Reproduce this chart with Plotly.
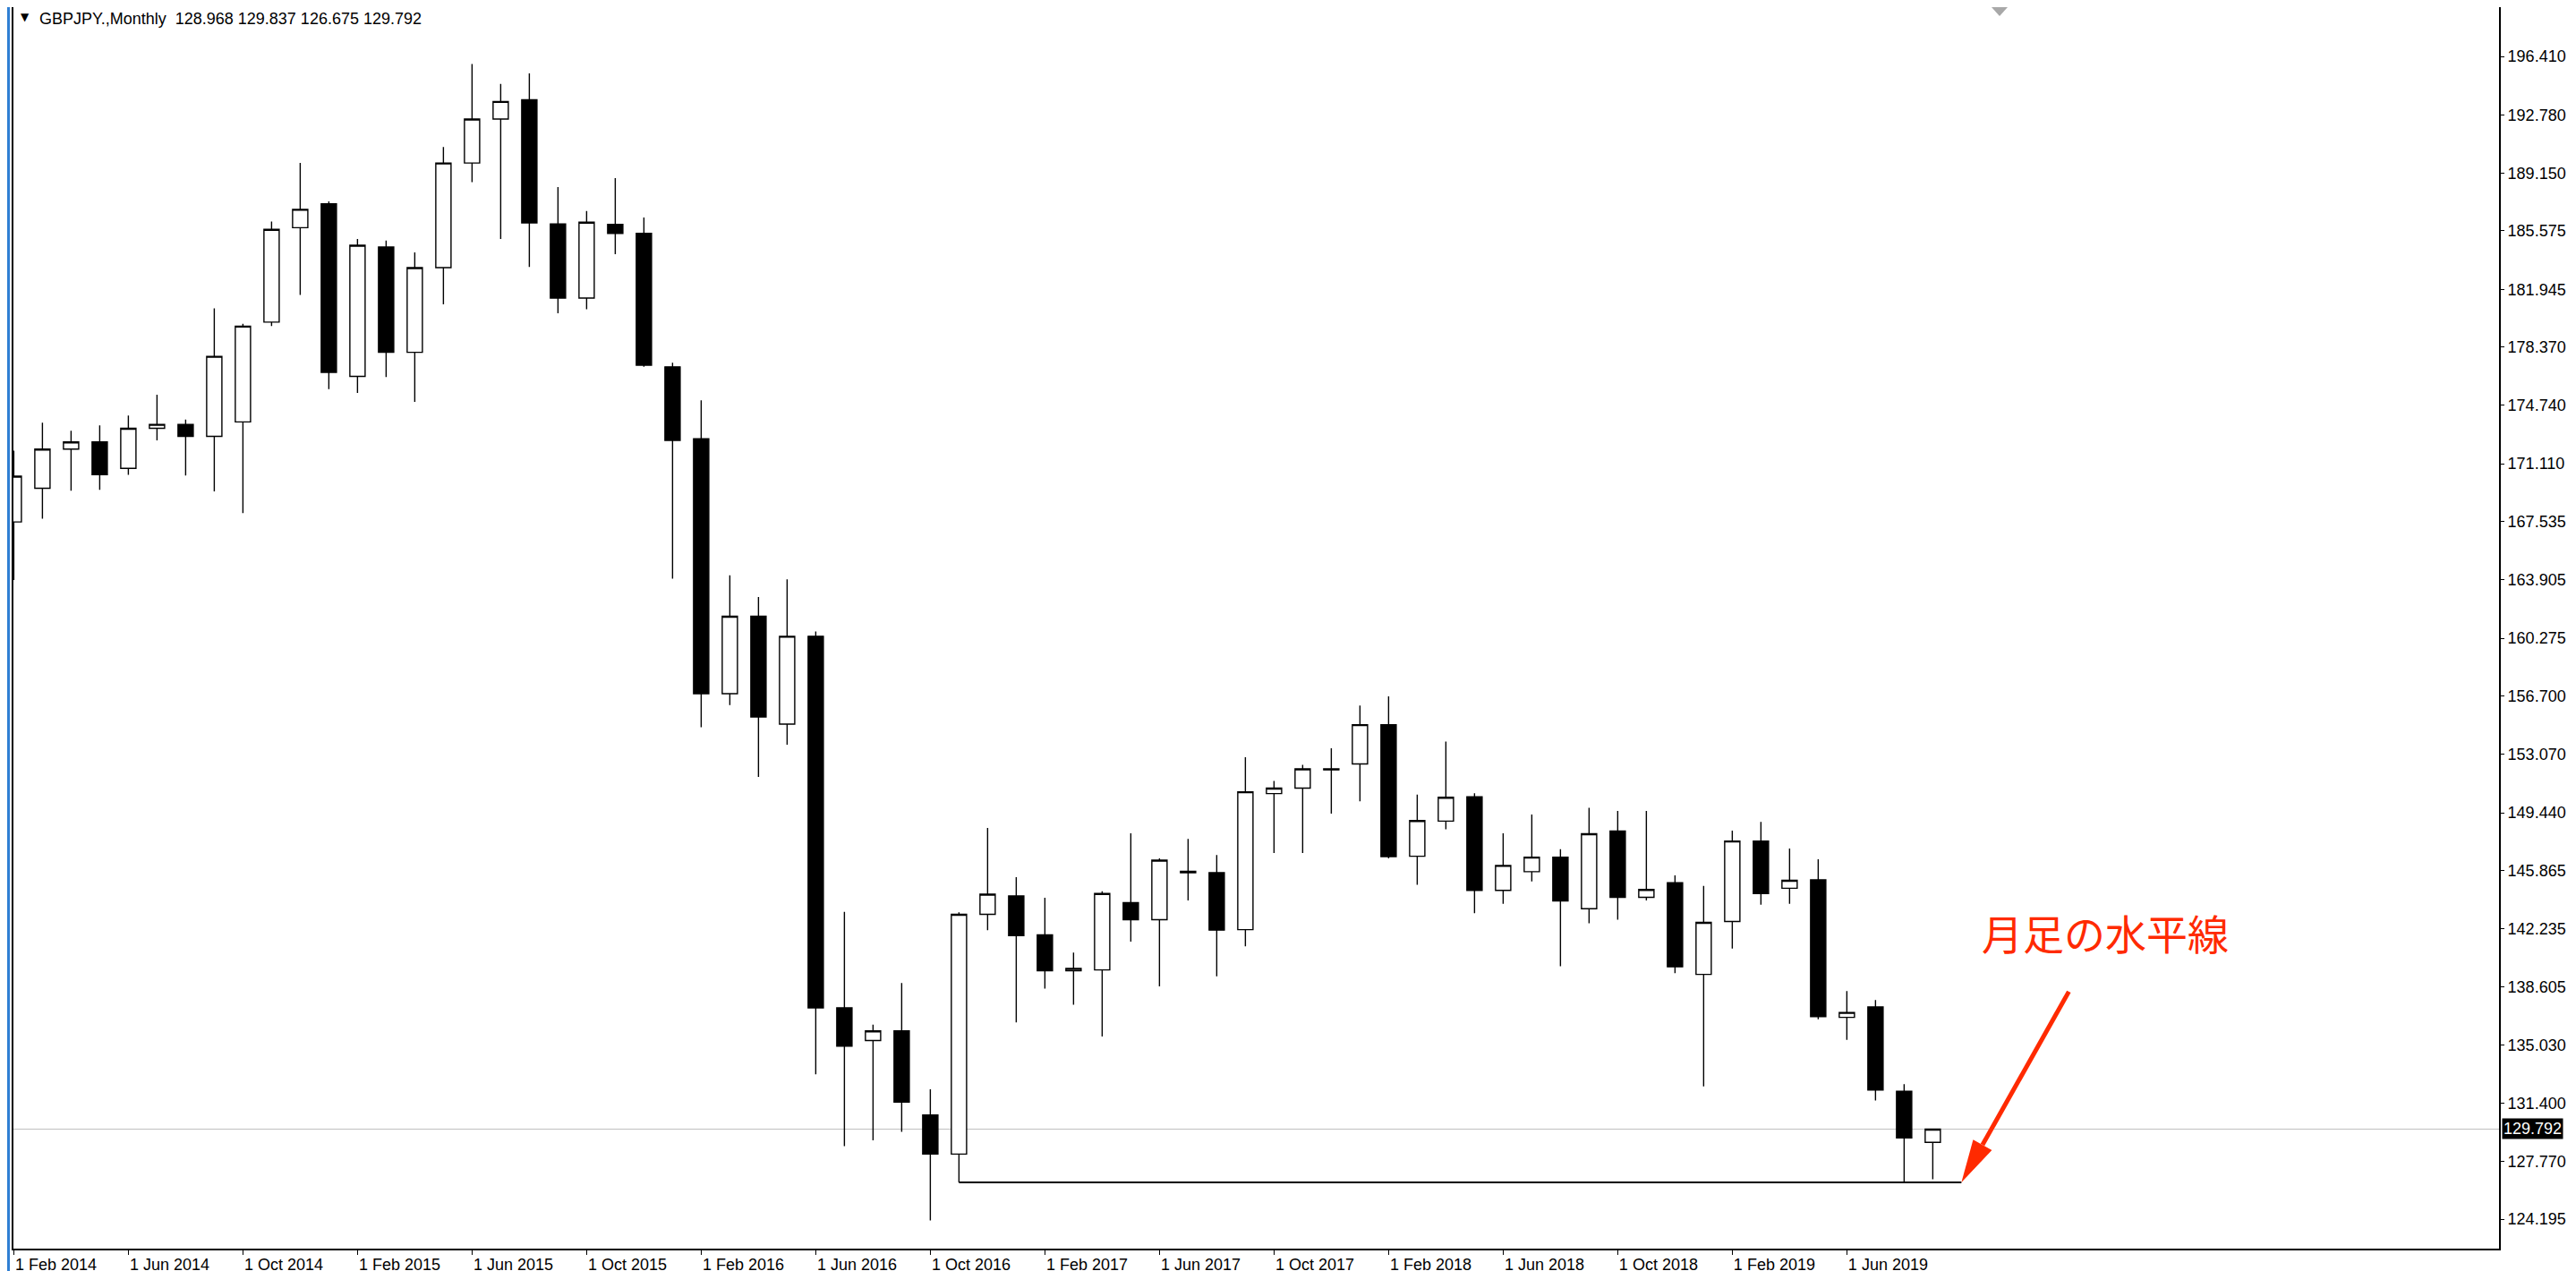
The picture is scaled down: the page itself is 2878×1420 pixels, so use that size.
import plotly.graph_objects as go

# ---------------- data ----------------
months = [
    "2014-02", "2014-03", "2014-04", "2014-05", "2014-06", "2014-07", "2014-08", "2014-09",
    "2014-10", "2014-11", "2014-12", "2015-01", "2015-02", "2015-03", "2015-04", "2015-05",
    "2015-06", "2015-07", "2015-08", "2015-09", "2015-10", "2015-11", "2015-12", "2016-01",
    "2016-02", "2016-03", "2016-04", "2016-05", "2016-06", "2016-07", "2016-08", "2016-09",
    "2016-10", "2016-11", "2016-12", "2017-01", "2017-02", "2017-03", "2017-04", "2017-05",
    "2017-06", "2017-07", "2017-08", "2017-09", "2017-10", "2017-11", "2017-12", "2018-01",
    "2018-02", "2018-03", "2018-04", "2018-05", "2018-06", "2018-07", "2018-08", "2018-09",
    "2018-10", "2018-11", "2018-12", "2019-01", "2019-02", "2019-03", "2019-04", "2019-05",
    "2019-06", "2019-07", "2019-08", "2019-09",
]
opens = [
    167.50, 169.59, 172.02, 172.47, 170.83, 173.31, 173.56, 172.81,
    173.71, 179.91, 185.77, 187.26, 176.54, 184.57, 178.03, 183.29,
    189.79, 192.52, 193.71, 186.01, 181.40, 185.97, 185.42, 177.13,
    172.67, 156.83, 161.64, 154.94, 160.40, 137.32, 135.29, 135.89,
    130.67, 128.24, 143.13, 144.27, 141.86, 139.62, 139.68, 143.85,
    142.80, 145.80, 145.72, 142.18, 150.63, 150.97, 152.16, 152.47,
    154.91, 146.74, 148.92, 150.43, 144.62, 145.78, 146.68, 143.48,
    148.30, 144.19, 145.10, 139.40, 142.69, 147.68, 144.75, 145.27,
    136.73, 137.38, 132.14, 128.968,
]
highs = [
    171.92, 173.66, 173.16, 173.50, 174.10, 175.40, 173.85, 180.76,
    179.81, 186.16, 189.79, 187.40, 185.07, 184.97, 184.24, 190.78,
    195.94, 194.70, 195.35, 188.30, 186.81, 188.85, 186.41, 177.38,
    175.05, 164.18, 162.83, 163.93, 160.70, 143.28, 136.28, 138.87,
    132.26, 143.25, 148.49, 145.44, 144.16, 140.76, 144.56, 148.16,
    146.60, 147.82, 146.82, 152.89, 151.42, 152.41, 153.44, 156.10,
    156.67, 150.57, 153.86, 150.65, 148.16, 149.33, 147.17, 149.75,
    149.55, 149.55, 145.55, 144.90, 148.33, 148.87, 147.22, 146.55,
    138.37, 137.81, 132.59, 129.837,
]
lows = [
    163.89, 167.70, 169.44, 169.49, 170.43, 172.56, 170.38, 169.39,
    168.05, 179.66, 181.60, 175.74, 175.51, 176.49, 174.95, 181.01,
    188.60, 185.07, 183.34, 180.46, 180.71, 184.13, 177.13, 163.98,
    154.75, 156.13, 151.67, 153.66, 133.20, 128.74, 129.09, 129.63,
    124.12, 126.49, 142.14, 136.42, 138.52, 137.52, 135.54, 141.44,
    138.66, 143.99, 139.28, 141.15, 146.94, 146.94, 149.38, 150.15,
    146.60, 144.96, 148.41, 143.20, 143.79, 145.18, 139.91, 142.57,
    142.80, 143.99, 139.48, 132.45, 141.01, 143.73, 143.79, 136.62,
    135.34, 131.57, 126.49, 126.675,
]
closes = [
    170.34, 172.02, 172.47, 170.43, 173.31, 173.56, 172.81, 177.78,
    179.66, 185.67, 186.91, 176.79, 184.68, 178.03, 183.29, 189.79,
    192.52, 193.61, 186.07, 181.40, 186.11, 185.42, 177.23, 172.56,
    156.83, 161.64, 155.39, 160.40, 137.32, 134.94, 135.89, 131.47,
    128.24, 143.13, 144.38, 141.81, 139.62, 139.77, 144.42, 142.80,
    146.49, 145.72, 142.15, 150.74, 150.97, 152.16, 152.10, 154.91,
    146.71, 148.95, 150.40, 144.62, 146.17, 146.68, 143.96, 148.13,
    144.19, 144.67, 139.87, 142.63, 147.68, 144.42, 145.24, 136.78,
    137.04, 132.22, 129.24, 129.792,
]

tick_months = ["2014-02", "2014-06", "2014-10", "2015-02", "2015-06", "2015-10",
               "2016-02", "2016-06", "2016-10", "2017-02", "2017-06", "2017-10",
               "2018-02", "2018-06", "2018-10", "2019-02", "2019-06"]
tick_labels = ["1 Feb 2014", "1 Jun 2014", "1 Oct 2014", "1 Feb 2015", "1 Jun 2015",
               "1 Oct 2015", "1 Feb 2016", "1 Jun 2016", "1 Oct 2016", "1 Feb 2017",
               "1 Jun 2017", "1 Oct 2017", "1 Feb 2018", "1 Jun 2018", "1 Oct 2018",
               "1 Feb 2019", "1 Jun 2019"]

price_ticks = [196.410, 192.780, 189.150, 185.575, 181.945, 178.370, 174.740, 171.110,
               167.535, 163.905, 160.275, 156.700, 153.070, 149.440, 145.865, 142.235,
               138.605, 135.030, 131.400, 127.770, 124.195]

symbol = "GBPJPY.,Monthly"
note_text = "月足の水平線"
support_month = "2016-11"      # monthly low used for the horizontal line

# ---------------- layout geometry ----------------
W, H = 2878, 1420
ML, MR, MT, MB = 7, 94, 0, 33
PW, PH = W - ML - MR, H - MT - MB
x_range = [-0.0125, 86.77]
y_range = [122.37, 199.467]
px_x = PW / (x_range[1] - x_range[0])      # pixels per bar
px_y = PH / (y_range[1] - y_range[0])      # pixels per price unit

xs = list(range(len(months)))
tick_idx = [months.index(m) for m in tick_months]

fig = go.Figure()
fig.add_trace(go.Candlestick(
    x=xs, open=opens, high=highs, low=lows, close=closes,
    increasing=dict(line=dict(color="black", width=1.4), fillcolor="white"),
    decreasing=dict(line=dict(color="black", width=1.4), fillcolor="black"),
    whiskerwidth=0, hoverinfo="skip", showlegend=False,
))

last = len(months) - 1
sup_i = months.index(support_month)
level = lows[sup_i]
line_end = last + 1.0

shapes = []
# current price (bid) line
shapes.append(dict(type="line", xref="paper", yref="y", x0=0, x1=1,
                   y0=closes[last], y1=closes[last],
                   line=dict(color="#c0c0c0", width=1), layer="below"))
# horizontal support line from the monthly low
shapes.append(dict(type="line", xref="x", yref="y", x0=sup_i, x1=line_end,
                   y0=level, y1=level, line=dict(color="black", width=2)))

# red arrow pointing to the end of the line
tip_x, tip_y = line_end, level
tail_dx_px, tail_dy_px = 120.0, -213.0      # tail offset in pixels (right, up)
L = (tail_dx_px ** 2 + tail_dy_px ** 2) ** 0.5
ux, uy = -tail_dx_px / L, -tail_dy_px / L   # unit vector tail->tip (px, y down)
head_len, head_half = 48.0, 12.0
bx, by = -ux * head_len, -uy * head_len     # base centre relative to tip (px)
pxp, pyp = -uy, ux                          # perpendicular


def to_data(dx_px, dy_px):
    return tip_x + dx_px / px_x, tip_y - dy_px / px_y


tail = to_data(tail_dx_px, tail_dy_px)
base = to_data(bx, by)
c1 = to_data(bx + pxp * head_half, by + pyp * head_half)
c2 = to_data(bx - pxp * head_half, by - pyp * head_half)
red = "#ff2a00"
shapes.append(dict(type="line", xref="x", yref="y", x0=tail[0], y0=tail[1],
                   x1=base[0], y1=base[1], line=dict(color=red, width=5)))
shapes.append(dict(type="path", xref="x", yref="y",
                   path=f"M{tip_x},{tip_y} L{c1[0]},{c1[1]} L{c2[0]},{c2[1]} Z",
                   fillcolor=red, line=dict(width=0)))
# blue window edge on the left
shapes.append(dict(type="rect", xref="paper", yref="paper",
                   x0=-ML / PW, x1=-4 / PW, y0=-MB / PH, y1=1,
                   fillcolor="#2f7fd3", line=dict(width=0)))
# thin grey window edge on the right
shapes.append(dict(type="line", xref="paper", yref="paper",
                   x0=1 + (MR - 2) / PW, x1=1 + (MR - 2) / PW, y0=-MB / PH, y1=1,
                   line=dict(color="#c8c8c8", width=2)))
# small grey chart-shift marker on top
mx = (2226 - ML) / PW
shapes.append(dict(type="path", xref="paper", yref="paper",
                   path=f"M{mx - 9 / PW},1 L{mx + 9 / PW},1 L{mx},{1 - 10 / PH} Z",
                   fillcolor="#a8a8a8", line=dict(width=0)))

annotations = []
annotations.append(dict(xref="paper", yref="paper", x=6 / PW, y=1, xanchor="left",
                        yanchor="top", text="▼", showarrow=False, yshift=-2,
                        font=dict(family="DejaVu Sans", size=12, color="black")))
ohlc_txt = "\u00a0".join(f"{v:.3f}" for v in (opens[last], highs[last], lows[last], closes[last]))
annotations.append(dict(xref="paper", yref="paper", x=27 / PW, y=1, xanchor="left",
                        yanchor="top", text=f"{symbol}\u00a0\u00a0{ohlc_txt}",
                        showarrow=False, yshift=-1,
                        font=dict(family="Liberation Sans", size=18, color="black")))
annotations.append(dict(xref="paper", yref="y", x=1, y=closes[last], xanchor="left",
                        yanchor="middle", xshift=3, text=f"{closes[last]:.3f}",
                        showarrow=False, bgcolor="black", borderpad=1,
                        font=dict(family="Liberation Sans", size=18, color="white")))
annotations.append(dict(xref="x", yref="y", x=tip_x + (2204 - 2183) / px_x,
                        y=level + (1315 - 1035) / px_y, xanchor="left", yanchor="middle",
                        text=note_text, showarrow=False,
                        font=dict(family="Noto Sans CJK JP", size=46, color=red)))

fig.update_layout(
    width=W, height=H,
    margin=dict(l=ML, r=MR, t=MT, b=MB, pad=0),
    paper_bgcolor="white", plot_bgcolor="white",
    showlegend=False, boxgap=0.24,
    shapes=shapes, annotations=annotations,
    font=dict(family="Liberation Sans", size=18, color="black"),
    xaxis=dict(range=x_range, rangeslider=dict(visible=False), showgrid=False,
               zeroline=False, showline=True, linecolor="black", linewidth=2,
               ticks="outside", ticklen=5, tickcolor="black", tickwidth=1,
               tickvals=tick_idx, ticktext=tick_labels,
               ticklabelposition="outside right",
               tickfont=dict(family="Liberation Sans", size=18, color="black")),
    yaxis=dict(range=y_range, side="right", showgrid=False, zeroline=False,
               showline=True, mirror=True, linecolor="black", linewidth=2,
               ticks="outside", ticklen=4, tickcolor="black", tickwidth=1,
               tickvals=price_ticks, ticktext=[f"{v:.3f}" for v in price_ticks],
               tickfont=dict(family="Liberation Sans", size=18, color="black")),
)

fig.write_html("out.html")
